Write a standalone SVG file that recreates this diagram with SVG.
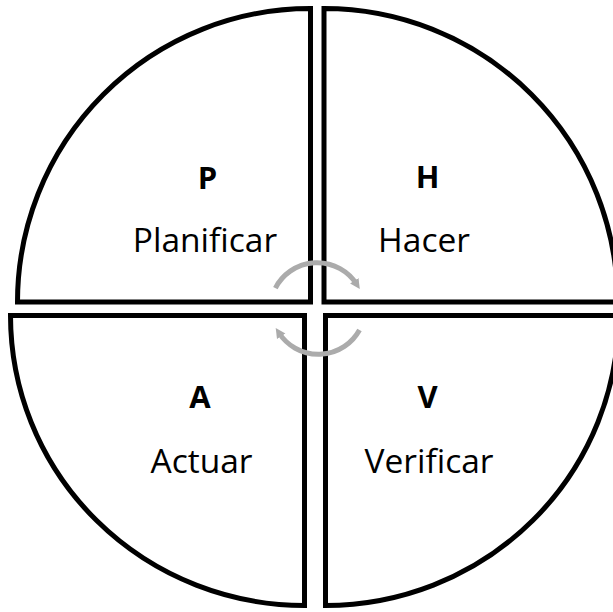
<svg xmlns="http://www.w3.org/2000/svg" width="613" height="612" viewBox="0 0 613 612">
<style>
.q{fill:#fff;stroke:#000;stroke-width:5;stroke-linejoin:miter}
.l{font-family:"Open Sans","Noto Sans",sans-serif;font-weight:bold;font-size:31px;fill:#000;text-anchor:middle}
.t{font-family:"Open Sans","Noto Sans",sans-serif;font-size:33.5px;fill:#000;text-anchor:middle}
.a{fill:none;stroke:#ababab;stroke-width:5}
</style>
<defs>
<marker id="ah" markerUnits="userSpaceOnUse" markerWidth="14" markerHeight="14" refX="4" refY="7" orient="auto">
<path d="M0,2 L10,7 L0,12 Z" fill="#ababab"/>
</marker>
</defs>
<rect width="613" height="612" fill="#fff"/>
<g id="node-P">
<path class="q" d="M310.5 302 L310.5 8.5 A293 293.5 0 0 0 17.5 302 Z"/>
<text class="l" x="207.5" y="189">P</text>
<text class="t" x="205" y="252">Planificar</text>
</g>
<g id="node-H">
<path class="q" d="M324 302 L324 8.5 A293.5 293.5 0 0 1 617.5 302 Z"/>
<text class="l" x="427.5" y="188">H</text>
<text class="t" x="424" y="252">Hacer</text>
</g>
<g id="node-A">
<path class="q" d="M304.5 315.5 L10.5 315.5 A294 290 0 0 0 304.5 605.5 Z"/>
<text class="l" x="200" y="408">A</text>
<text class="t" x="201.5" y="473">Actuar</text>
</g>
<g id="node-V">
<path class="q" d="M325.5 315.5 L325.5 605.5 A293 290 0 0 0 618.5 315.5 Z"/>
<text class="l" x="427.5" y="408">V</text>
<text class="t" x="429" y="473">Verificar</text>
</g>
<g id="connectors">
<path class="a" d="M275.4 288.1 A47 47 0 0 1 356.5 284" marker-end="url(#ah)"/>
<path class="a" d="M359.5 330 A47 47 0 0 1 279 333" marker-end="url(#ah)"/>
</g>
</svg>
